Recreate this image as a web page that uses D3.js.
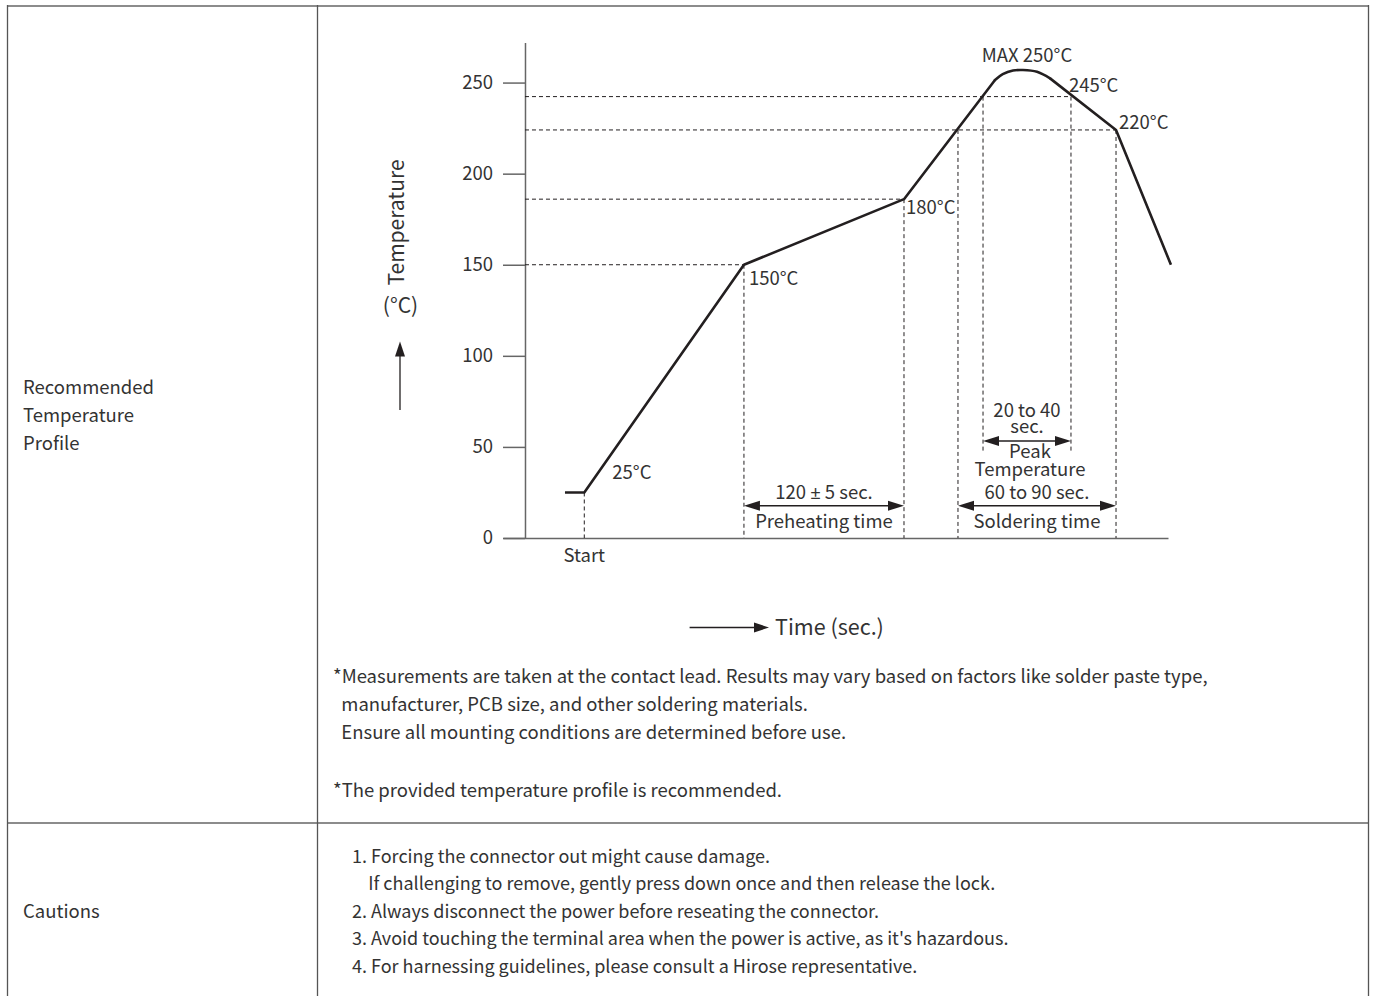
<!DOCTYPE html>
<html>
<head>
<meta charset="utf-8">
<script src="https://cdn.jsdelivr.net/npm/d3@7"></script>
<style>
  html, body { margin: 0; padding: 0; background: #fff; }
  svg { display: block; font-family: "Noto Sans CJK JP", "Noto Sans", sans-serif; }
</style>
</head>
<body>
<svg id="chart" width="1373" height="996"></svg>
<script>
// ---------------- data ----------------
const yTicks = [0, 50, 100, 150, 200, 250];
// reflow profile as drawn (time units, temperature in °C as plotted)
const rampTime = [-14.5, 0, 119.8, 239.9, 308.2];
const rampTemp = [25, 25, 150, 186, 251.4];
const domeTime = [308.2, 314, 321.7, 329.2, 339.7, 349.5];
const domeTemp = [251.4, 254.6, 256.6, 256.9, 255.9, 252.3];
const coolTime = [349.5, 399, 440.2];
const coolTemp = [252.3, 224, 150];
// dashed reference levels (temperature) and where they end (time)
const levelTemp = [242.3, 224, 186, 150];
const levelEnd  = [365.2, 399, 239.9, 119.8];
// dashed vertical guides: time, top temperature, bottom temperature
const guideTime = [0, 119.8, 239.9, 280.4, 299.2, 365.2, 399];
const guideTop  = [25, 150, 186, 224, 242.3, 242.3, 224];
const guideBot  = [0, 0, 0, 0, 46.6, 46.6, 0];
// range arrows: start time, end time, temperature level
const spanStart = [119.8, 280.4, 299.2];
const spanEnd   = [239.9, 399, 365.2];
const spanTemp  = [17.7, 17.7, 53.2];
// labels
const pointLabels = ["25°C", "150°C", "180°C", "220°C", "245°C", "MAX 250°C"];
const rowLabels1 = ["Recommended", "Temperature", "Profile"];
const rowLabels2 = ["Cautions"];
const notes = [
  "*Measurements are taken at the contact lead. Results may vary based on factors like solder paste type,",
  "  manufacturer, PCB size, and other soldering materials.",
  "  Ensure all mounting conditions are determined before use."
];
const note2 = "*The provided temperature profile is recommended.";
const cautions = [
  "1. Forcing the connector out might cause damage.",
  "    If challenging to remove, gently press down once and then release the lock.",
  "2. Always disconnect the power before reseating the connector.",
  "3. Avoid touching the terminal area when the power is active, as it's hazardous.",
  "4. For harnessing guidelines, please consult a Hirose representative."
];

// ---------------- drawing ----------------
const svg = d3.select("#chart");
const ink = "#231f20";
const textCol = "#333";
const bodySize = 18.5;

// table frame
const tbl = svg.append("g");
tbl.append("line").attr("x1", 7).attr("x2", 1369).attr("y1", 6).attr("y2", 6)
  .attr("stroke", "#8c8c8c").attr("stroke-width", 2);
tbl.append("line").attr("x1", 7).attr("x2", 1369).attr("y1", 823).attr("y2", 823)
  .attr("stroke", "#8c8c8c").attr("stroke-width", 2);
[7.5, 317.5, 1368.5].forEach(x => {
  tbl.append("line").attr("x1", x).attr("x2", x).attr("y1", 5).attr("y2", 996)
    .attr("stroke", "#555").attr("stroke-width", 1.3);
});

// left-column labels
svg.append("g").selectAll("text").data(rowLabels1).join("text")
  .attr("x", 23).attr("y", (d, i) => 394 + i * 28)
  .attr("font-size", bodySize).attr("fill", textCol).text(d => d);
svg.append("g").selectAll("text").data(rowLabels2).join("text")
  .attr("x", 23).attr("y", 917.5)
  .attr("font-size", bodySize).attr("fill", textCol).text(d => d);

// scales
const x = d3.scaleLinear().domain([-61, 438]).range([503, 1168]);
const y = d3.scaleLinear().domain([0, 272]).range([538, 42.5]);
const axisT = -44.5; // time position of vertical axis
const ax = x(axisT);

// y axis
const yAxis = svg.append("g").attr("transform", `translate(${ax},0)`)
  .call(d3.axisLeft(y).tickValues(yTicks).tickSize(22).tickSizeOuter(0).tickPadding(10));
yAxis.select(".domain").attr("stroke", "#666").attr("stroke-width", 1.5);
yAxis.selectAll(".tick line").attr("stroke", "#666").attr("stroke-width", 1.5);
yAxis.selectAll(".tick text").attr("font-size", 18.5).attr("fill", textCol)
  .attr("font-family", "Noto Sans CJK JP, Noto Sans, sans-serif");

// x axis (baseline only)
const xAxis = svg.append("g").attr("transform", `translate(0,${y(0)})`)
  .call(d3.axisBottom(x).tickValues([]).tickSizeOuter(0));
xAxis.select(".domain").attr("stroke", "#666").attr("stroke-width", 1.5);

// dashed guides
const dash = "4,3";
svg.append("g").selectAll("line").data(levelTemp).join("line")
  .attr("x1", ax).attr("x2", (d, i) => x(levelEnd[i]))
  .attr("y1", d => y(d)).attr("y2", d => y(d))
  .attr("stroke", ink).attr("stroke-width", 1).attr("stroke-dasharray", dash);
svg.append("g").selectAll("line").data(guideTime).join("line")
  .attr("x1", d => x(d)).attr("x2", d => x(d))
  .attr("y1", (d, i) => y(guideTop[i])).attr("y2", (d, i) => y(guideBot[i]))
  .attr("stroke", ink).attr("stroke-width", 1).attr("stroke-dasharray", dash);

// profile curve
const zip = (ts, vs) => ts.map((t, i) => [t, vs[i]]);
const lin = d3.line().x(d => x(d[0])).y(d => y(d[1]));
const smooth = d3.line().x(d => x(d[0])).y(d => y(d[1])).curve(d3.curveCatmullRom);
const curveG = svg.append("g").attr("fill", "none").attr("stroke", ink)
  .attr("stroke-width", 2.6).attr("stroke-linejoin", "round").attr("stroke-linecap", "round");
curveG.append("path").attr("d", lin(zip(rampTime, rampTemp)))
  .attr("stroke-linecap", "butt");
curveG.append("path").attr("d", smooth(zip(domeTime, domeTemp)));
curveG.append("path").attr("d", lin(zip(coolTime, coolTemp)))
  .attr("stroke-linecap", "butt");

// arrow helpers
function head(g, tipX, tipY, dirX, dirY, len, hw) {
  const bx = tipX - dirX * len, by = tipY - dirY * len;
  const px = -dirY * hw, py = dirX * hw;
  g.append("path")
    .attr("d", `M${tipX},${tipY}L${bx + px},${by + py}L${bx - px},${by - py}Z`)
    .attr("fill", ink);
}
const arrows = svg.append("g");
spanStart.forEach((s, i) => {
  const x1 = x(s), x2 = x(spanEnd[i]), yy = y(spanTemp[i]);
  arrows.append("line").attr("x1", x1 + 8).attr("x2", x2 - 8).attr("y1", yy).attr("y2", yy)
    .attr("stroke", ink).attr("stroke-width", 1.5);
  head(arrows, x1, yy, -1, 0, 16, 5);
  head(arrows, x2, yy, 1, 0, 16, 5);
});

// point labels
const ann = svg.append("g").attr("fill", textCol).attr("font-size", 18.5);
const lp = [
  [x(0) + 28, y(25) - 13, "start"],
  [x(119.8) + 5, y(150) + 20, "start"],
  [x(239.9) + 2, y(186) + 15, "start"],
  [x(399) + 3, y(224) - 1, "start"],
  [x(365.2) - 2, y(242.3) - 5, "start"],
  [x(329.2) + 4, y(256.9) - 8, "middle"]
];
pointLabels.forEach((t, i) => {
  ann.append("text").attr("x", lp[i][0]).attr("y", lp[i][1])
    .attr("text-anchor", lp[i][2]).text(t);
});
ann.append("text").attr("x", x(0)).attr("y", y(0) + 24).attr("text-anchor", "middle").text("Start");

// span labels
const mid = i => (x(spanStart[i]) + x(spanEnd[i])) / 2;
const pm = ann.append("text").attr("x", mid(0)).attr("y", y(spanTemp[0]) - 7).attr("text-anchor", "middle");
pm.append("tspan").text("120 ");
pm.append("tspan").attr("font-family", "Noto Sans, sans-serif").text("±");
pm.append("tspan").text(" 5 sec.");
ann.append("text").attr("x", mid(0)).attr("y", y(spanTemp[0]) + 22).attr("text-anchor", "middle").text("Preheating time");
ann.append("text").attr("x", mid(1)).attr("y", y(spanTemp[1]) - 7).attr("text-anchor", "middle").text("60 to 90 sec.");
ann.append("text").attr("x", mid(1)).attr("y", y(spanTemp[1]) + 22).attr("text-anchor", "middle").text("Soldering time");
ann.append("text").attr("x", mid(2)).attr("y", y(spanTemp[2]) - 24).attr("text-anchor", "middle").text("20 to 40");
ann.append("text").attr("x", mid(2)).attr("y", y(spanTemp[2]) - 8).attr("text-anchor", "middle").text("sec.");
ann.append("text").attr("x", mid(2) + 3).attr("y", y(spanTemp[2]) + 17).attr("text-anchor", "middle").text("Peak");
ann.append("text").attr("x", mid(2) + 3).attr("y", y(spanTemp[2]) + 34.5).attr("text-anchor", "middle").text("Temperature");

// axis titles
const titles = svg.append("g").attr("fill", textCol).attr("font-size", 21);
titles.append("text").attr("transform", "translate(403.5,222.5) rotate(-90)")
  .attr("text-anchor", "middle").text("Temperature");
titles.append("text").attr("x", 400.5).attr("y", 312.5).attr("text-anchor", "middle").text("(°C)");
titles.append("line").attr("x1", 400).attr("x2", 400).attr("y1", 410).attr("y2", 354)
  .attr("stroke", ink).attr("stroke-width", 1.3);
head(titles, 400, 341.5, 0, -1, 15, 5);
titles.append("line").attr("x1", 689.6).attr("x2", 757).attr("y1", 627.5).attr("y2", 627.5)
  .attr("stroke", ink).attr("stroke-width", 1.3);
head(titles, 769, 627.5, 1, 0, 15, 5);
titles.append("text").attr("x", 775).attr("y", 634.5).attr("font-size", 21.5).text("Time (sec.)");

// notes
const nt = svg.append("g").attr("fill", textCol).attr("font-size", bodySize);
notes.forEach((t, i) => nt.append("text").attr("x", 333).attr("y", 683 + i * 28)
  .style("white-space", "pre").text(t));
nt.append("text").attr("x", 333).attr("y", 797).text(note2);

// cautions
const ct = svg.append("g").attr("fill", textCol).attr("font-size", 18);
cautions.forEach((t, i) => ct.append("text").attr("x", 352).attr("y", 862.5 + i * 27.6)
  .style("white-space", "pre").text(t));
</script>
</body>
</html>
